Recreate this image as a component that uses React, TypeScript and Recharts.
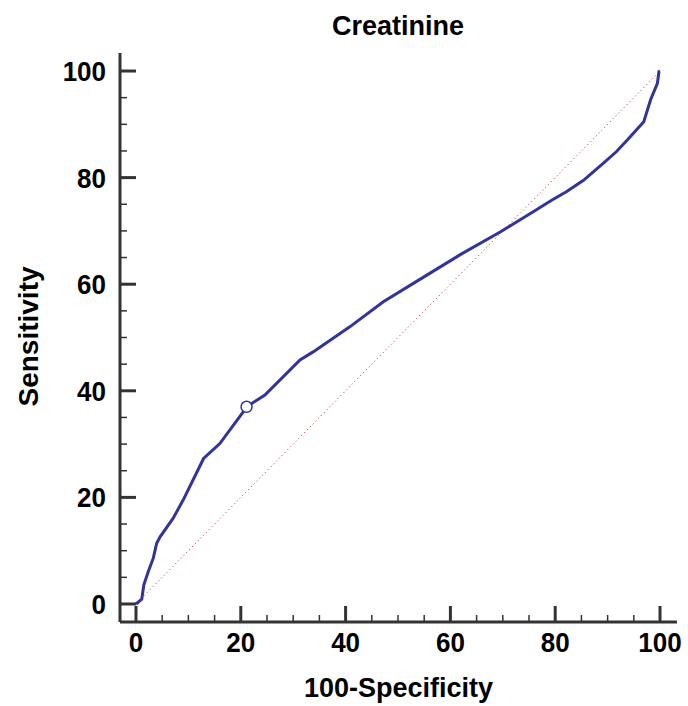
import React from 'react';
import { ComposedChart, Line, Scatter, XAxis, YAxis, Label } from 'recharts';

// ROC curve points (100-Specificity, Sensitivity)
const rocX = [0, 1.1, 1.5, 2.35, 3.3, 3.95, 4.6, 7.1, 9.0, 12.9, 16.0, 20.5, 21.1, 24.6, 31.3, 33.8, 40.8, 47.2, 55.5, 61.8, 69.5, 75.8, 79.4, 82.2, 85.4, 89.2, 91.7, 93.8, 96.9, 98.2, 99.5, 99.8, 100];
const rocY = [0, 0.9, 3.6, 6.1, 8.6, 11.4, 12.6, 16.1, 19.5, 27.3, 30.1, 36.1, 37.0, 39.2, 45.8, 47.3, 52.0, 56.7, 61.7, 65.5, 69.8, 73.6, 75.8, 77.4, 79.5, 82.7, 84.9, 87.1, 90.5, 94.6, 97.7, 99.9, 100];
const diagonalX = [0, 100];
const diagonalY = [0, 100];
const cutoffX = [21.1];
const cutoffY = [37.0];
const axisTicks = [0, 5, 10, 15, 20, 25, 30, 35, 40, 45, 50, 55, 60, 65, 70, 75, 80, 85, 90, 95, 100];
const labeledTicks = [0, 20, 40, 60, 80, 100];

const rocData = rocX.map((x, i) => ({ x, y: rocY[i] }));
const diagonalData = diagonalX.map((x, i) => ({ x, y: diagonalY[i] }));
const cutoffData = cutoffX.map((x, i) => ({ x, y: cutoffY[i] }));

const FONT = '"Liberation Sans", Arial, sans-serif';
const AXIS = '#333333';
const BLUE = '#33339c';
const STRETCH = 1.08;

const XTick = (props: any) => {
    const { x, y, payload } = props;
    const major = labeledTicks.includes(payload.value);
    return (
        <g>
            <line x1={x} x2={x} y1={y} y2={y - (major ? 16 : 7)} stroke={AXIS} strokeWidth={major ? 3 : 1.5} />
            {major && (
                <text transform={`translate(${x}, ${y + 30}) scale(1, ${STRETCH})`} textAnchor="middle" fontFamily={FONT} fontWeight="bold" fontSize={26} fill="#000">
                    {payload.value}
                </text>
            )}
        </g>
    );
};

const YTick = (props: any) => {
    const { x, y, payload } = props;
    const major = labeledTicks.includes(payload.value);
    return (
        <g>
            <line x1={x} x2={x + (major ? 16 : 7)} y1={y} y2={y} stroke={AXIS} strokeWidth={major ? 3 : 1.5} />
            {major && (
                <text transform={`translate(${x - 14}, ${y + 10}) scale(1, ${STRETCH})`} textAnchor="end" fontFamily={FONT} fontWeight="bold" fontSize={26} fill="#000">
                    {payload.value}
                </text>
            )}
        </g>
    );
};

const App = () => {
    return (
        <div style={{ position: 'absolute', left: 0, top: 0, width: 688, height: 706, background: '#fff' }}>
            <div
                style={{
                    position: 'absolute',
                    top: 12.5,
                    left: 398,
                    transform: 'translateX(-50%)',
                    fontFamily: FONT,
                    fontWeight: 'bold',
                    fontSize: 27,
                    lineHeight: '27px',
                    whiteSpace: 'nowrap',
                    color: '#000'
                }}
            >
                Creatinine
            </div>
            <ComposedChart width={688} height={706} data={rocData} margin={{ top: 53, right: 11, left: 0, bottom: 0 }}>
                <XAxis
                    type="number"
                    dataKey="x"
                    domain={[-3.05, 103.24]}
                    allowDataOverflow
                    ticks={axisTicks}
                    interval={0}
                    height={84}
                    tickSize={0}
                    tickMargin={0}
                    tickLine={false}
                    axisLine={{ stroke: AXIS, strokeWidth: 3 }}
                    tick={<XTick />}
                >
                    <Label
                        content={(p: any) => {
                            const vb = p.viewBox;
                            return (
                                <text x={vb.x + vb.width / 2} y={vb.y + 75} textAnchor="middle" fontFamily={FONT} fontWeight="bold" fontSize={27} fill="#000">
                                    100-Specificity
                                </text>
                            );
                        }}
                    />
                </XAxis>
                <YAxis
                    type="number"
                    dataKey="y"
                    domain={[-3.38, 103.38]}
                    allowDataOverflow
                    ticks={axisTicks}
                    interval={0}
                    width={120}
                    tickSize={0}
                    tickMargin={0}
                    tickLine={false}
                    axisLine={{ stroke: AXIS, strokeWidth: 3 }}
                    tick={<YTick />}
                >
                    <Label
                        content={(p: any) => {
                            const vb = p.viewBox;
                            const cy = vb.y + vb.height / 2 - 1;
                            return (
                                <text x={38} y={cy} transform={`rotate(-90, 38, ${cy})`} textAnchor="middle" fontFamily={FONT} fontWeight="bold" fontSize={28} fill="#000">
                                    Sensitivity
                                </text>
                            );
                        }}
                    />
                </YAxis>
                <Line
                    data={diagonalData}
                    dataKey="y"
                    type="linear"
                    stroke="#b22222"
                    strokeWidth={1}
                    strokeDasharray="1 3"
                    dot={false}
                    activeDot={false}
                    isAnimationActive={false}
                />
                <Line
                    data={rocData}
                    dataKey="y"
                    type="linear"
                    stroke={BLUE}
                    strokeWidth={3}
                    dot={false}
                    activeDot={false}
                    isAnimationActive={false}
                />
                <Scatter
                    data={cutoffData}
                    dataKey="y"
                    isAnimationActive={false}
                    shape={(p: any) => <circle cx={p.cx} cy={p.cy} r={5.5} fill="#fff" stroke={BLUE} strokeWidth={1.5} />}
                />
            </ComposedChart>
        </div>
    );
};

export default App;
